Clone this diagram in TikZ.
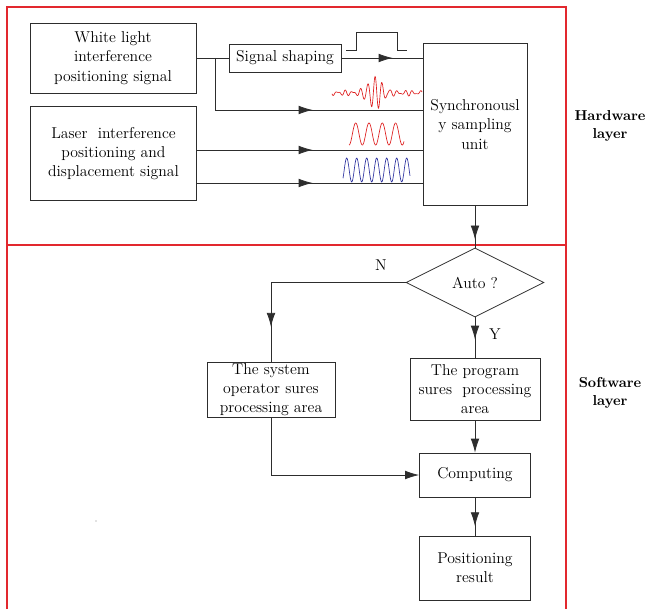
\documentclass[tikz,border=0pt]{standalone}
\usepackage{tikz}
\usetikzlibrary{shapes.geometric,arrows.meta,decorations.markings}

\definecolor{layerred}{RGB}{226,40,46}
\definecolor{wavered}{RGB}{222,30,30}
\definecolor{waveblue}{RGB}{45,50,160}
\definecolor{boxgray}{RGB}{45,45,45}

\tikzset{
    box/.style={draw=boxgray, line width=0.6pt, align=center, inner sep=1pt},
    conn/.style={color=boxgray, line width=0.6pt},
    tipat/.style={postaction={decorate}, decoration={markings, mark=at position #1 with {\arrow{Latex[length=10.5pt,width=6.5pt]}}}},
}

\begin{document}
\begin{tikzpicture}[x=0.75pt, y=-0.75pt, font=\fontsize{11.8pt}{14.4pt}\selectfont]
        \useasboundingbox (0,0) rectangle (648,609);

        \draw[layerred, line width=0.8pt] (7,7) rectangle (566,245);
        \draw[layerred, line width=0.8pt] (7,609) |- (566,245) -- (566,609);
        \node[font=\fontsize{10.8pt}{13.5pt}\selectfont\bfseries, align=center] (hw) at (610,126) {Hardware\\layer};
        \node[font=\fontsize{10.8pt}{13.5pt}\selectfont\bfseries, align=center] (sw) at (610,393) {Software\\layer};

        \node[box, minimum width=124.5pt, minimum height=52.5pt] (white) at (113,58) {White light\\interference\\positioning signal};
        \node[box, minimum width=84pt, minimum height=21pt] (shaping) at (285,58) {Signal shaping};
        \node[box, minimum width=125pt, minimum height=71pt] (laser) at (113.5,153.5) {Laser~ interference\\positioning and\\displacement signal};
        \node[box, minimum width=78pt, minimum height=122pt] (sync) at (475,124.5) {Synchronousl\\y sampling\\unit};

        \node[box, diamond, shape aspect=2, minimum width=103.5pt, minimum height=51.75pt, inner sep=0pt] (auto) at (475,282.5) {Auto ?};
        \node[box, minimum width=96pt, minimum height=41.25pt, inner sep=0pt] (system) at (271,389.5) {The system\\operator sures\\processing area};
        \node[box, minimum width=97.5pt, minimum height=46.5pt] (program) at (475,389) {The program\\sures~ processing\\area};
        \node[box, minimum width=83.25pt, minimum height=33pt] (computing) at (475,475) {Computing};
        \node[box, minimum width=83.25pt, minimum height=48pt] (result) at (475,568) {Positioning\\result};
        \node (no) at (381,265) {N};
        \node (yes) at (495,334) {Y};

        \coordinate (split) at (215,58);
        \coordinate (bend) at (215,110);

        % signals
        \draw[conn] (white.east) -- (shaping.west);
        \draw[conn] (split) -- (bend);
        \draw[conn, tipat=-82.5pt] (bend) -- (sync.west |- bend);
        \draw[conn, tipat=-22.5pt] (shaping.east) -- (sync.west |- shaping.east);
        \draw[conn, tipat=-82.5pt] (laser.east |- 0,150) -- (sync.west |- 0,150);
        \draw[conn, tipat=-82.5pt] (laser.east |- 0,183) -- (sync.west |- 0,183);

        \draw[boxgray, line width=0.6pt] (346,50) -- (356,50) -- (356,32) -- (397,32) -- (397,50) -- (407,50);
        \draw[wavered, line width=0.5pt, domain=332:422, samples=300, smooth, variable=\x] plot (\x, {93 - 14*exp(-((\x-375)/10)*((\x-375)/10))*cos((\x-375)*51.43) + 1.8*sin((\x-332)*48) + 1.2*sin((\x-332)*71+40)});
        \draw[wavered, line width=0.5pt, domain=349:404, samples=150, smooth, variable=\x] plot (\x, {134 - 11*cos((\x-355.7)*27.07)});
        \draw[waveblue, line width=0.5pt, domain=343:410, samples=150, smooth, variable=\x] plot (\x, {170 - 12*cos((\x-346.7)*36)});

        % flow
        \draw[conn, tipat=-6pt] (sync.south) -- (auto.north);
        \draw[conn, tipat=-26pt] (auto.west) -| (system.north);
        \draw[conn, tipat=-13.5pt] (auto.south) -- (program.north);
        \draw[conn, -{Latex[length=10.5pt,width=6.5pt]}] (program.south) -- (computing.north);
        \draw[conn, -{Latex[length=10.5pt,width=6.5pt]}] (system.south) |- (computing.west);
        \draw[conn, tipat=-7pt] (computing.south) -- (result.north);

        \fill[gray] (96,521) circle (0.5pt);
\end{tikzpicture}
\end{document}
